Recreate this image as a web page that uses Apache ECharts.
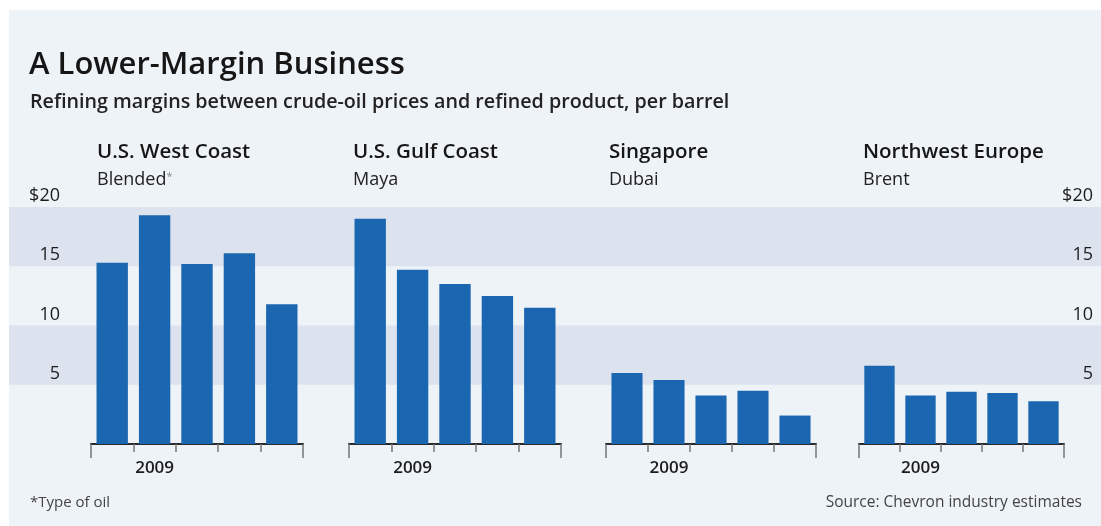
<!DOCTYPE html>
<html>
<head>
<meta charset="utf-8">
<title>A Lower-Margin Business</title>
<script src="https://cdn.jsdelivr.net/npm/echarts@6/dist/echarts.min.js"></script>
<style>
  html, body { margin: 0; padding: 0; background: #fff; }
  #chart { width: 1101px; height: 526px; }
</style>
</head>
<body>
<div id="chart"></div>
<script>
// quarters; the 2009 tick sits between the 1st and 2nd bar
var quarters = ['4Q08', '1Q09', '2Q09', '3Q09', '4Q09']
var yearLabel = '2009'
var regions = ['U.S. West Coast', 'U.S. Gulf Coast', 'Singapore', 'Northwest Europe']
var crudes = ['Blended', 'Maya', 'Dubai', 'Brent']
// refining margin, $ per barrel
var westCoast = [15.3, 19.3, 15.2, 16.1, 11.8]
var gulfCoast = [19.0, 14.7, 13.5, 12.5, 11.5]
var singapore = [6.0, 5.4, 4.1, 4.5, 2.4]
var nwEurope = [6.6, 4.1, 4.4, 4.3, 3.6]
var yTicks = [0, 5, 10, 15, 20]
var yTickLabels = ['', '5', '10', '15', '$20']

var margins = [westCoast, gulfCoast, singapore, nwEurope]
var gridLeft = [91, 349, 606, 859]
var gridWidth = [212, 212, 210, 205]
var headLeft = [97, 353, 609, 863]

var FONT = "'Open Sans', 'Noto Sans', sans-serif"
var BAR = '#1a66b0'

var myChart = echarts.init(document.getElementById('chart'))

var grid = []
var xAxis = []
var yAxis = []
var series = []
var title = [
  {
    text: 'A Lower-Margin Business', left: 29, top: 50, padding: 0,
    textStyle: { fontFamily: FONT, fontSize: 31, fontWeight: 600, color: '#161616' }
  },
  {
    text: 'Refining margins between crude-oil prices and refined product, per barrel',
    left: 30, top: 92, padding: 0,
    textStyle: { fontFamily: FONT, fontSize: 19.7, fontWeight: 600, color: '#222' }
  },
  {
    text: '*Type of oil', left: 30, top: 495, padding: 0,
    textStyle: { fontFamily: FONT, fontSize: 15, fontWeight: 'normal', color: '#444' }
  },
  {
    text: 'Source: Chevron industry estimates', right: 19, top: 495, padding: 0,
    textStyle: { fontFamily: FONT, fontSize: 15.5, fontWeight: 'normal', color: '#444' }
  }
]

for (var i = 0; i < 4; i++) {
  grid.push({ left: gridLeft[i], width: gridWidth[i], top: 207, bottom: 82 })

  // bars axis with short boundary ticks
  xAxis.push({
    type: 'category',
    gridIndex: i,
    position: 'bottom',
    data: quarters,
    axisLine: { show: true, lineStyle: { color: '#2a2a2a', width: 2 } },
    axisTick: { show: true, length: 8, lineStyle: { color: '#777', width: 1.5 } },
    axisLabel: { show: false }
  })
  // second axis only for the long 2009 tick and its label
  xAxis.push({
    type: 'category',
    gridIndex: i,
    position: 'bottom',
    data: quarters,
    axisLine: { show: false },
    axisTick: {
      show: true,
      length: 14,
      interval: function(idx) { return idx === 1 },
      lineStyle: { color: '#777', width: 1.5 }
    },
    axisLabel: {
      show: true,
      interval: function(idx) { return idx === 1 },
      formatter: function() { return yearLabel },
      margin: 16,
      fontFamily: FONT,
      fontSize: 17,
      fontWeight: 600,
      color: '#1c1c1c'
    }
  })

  yAxis.push({
    type: 'value',
    gridIndex: i,
    min: 0,
    max: 20,
    interval: 5,
    position: i === 3 ? 'right' : 'left',
    show: i === 0 || i === 3,
    axisLine: { show: false },
    axisTick: { show: false },
    splitLine: { show: false },
    axisLabel: {
      formatter: function(v) { return yTickLabels[yTicks.indexOf(v)] },
      align: 'right',
      verticalAlign: 'bottom',
      margin: i === 3 ? 29 : 31,
      padding: [0, 0, 2, 0],
      fontFamily: FONT,
      fontSize: 18,
      color: '#1c1c1c'
    }
  })

  series.push({
    type: 'bar',
    name: regions[i],
    xAxisIndex: i * 2,
    yAxisIndex: i,
    data: margins[i],
    barCategoryGap: '26%',
    silent: true,
    itemStyle: { color: BAR }
  })

  title.push({
    text: regions[i], left: headLeft[i], top: 142, padding: 0,
    textStyle: { fontFamily: FONT, fontSize: 20.5, fontWeight: 600, color: '#161616' }
  })
  title.push({
    text: i === 0 ? '{a|' + crudes[i] + '}{s|*}' : crudes[i],
    left: headLeft[i], top: 171, padding: 0,
    textStyle: {
      fontFamily: FONT, fontSize: 18, fontWeight: 'normal', color: '#222',
      rich: {
        a: { fontFamily: FONT, fontSize: 18, color: '#222' },
        s: { fontFamily: FONT, fontSize: 11, color: '#888', padding: [0, 0, 6, 0] }
      }
    }
  })
}

// full width grid that only paints the shaded bands
grid.push({ left: 9, right: 0, top: 207, bottom: 82 })
xAxis.push({ type: 'value', gridIndex: 4, show: false, min: 0, max: 1 })
yAxis.push({
  type: 'value',
  gridIndex: 4,
  min: 0,
  max: 20,
  interval: 5,
  axisLine: { show: false },
  axisTick: { show: false },
  axisLabel: { show: false },
  splitLine: { show: false },
  splitArea: { show: true, areaStyle: { color: ['rgba(0,0,0,0)', '#dce3ef'] } }
})

var option = {
  backgroundColor: '#eef3f8',
  animation: false,
  title: title,
  graphic: [
    { type: 'rect', shape: { x: 0, y: 0, width: 1101, height: 10 }, style: { fill: '#fff' } },
    { type: 'rect', shape: { x: 0, y: 0, width: 9, height: 526 }, style: { fill: '#fff' } }
  ],
  grid: grid,
  xAxis: xAxis,
  yAxis: yAxis,
  series: series
}
myChart.setOption(option)
</script>
</body>
</html>
